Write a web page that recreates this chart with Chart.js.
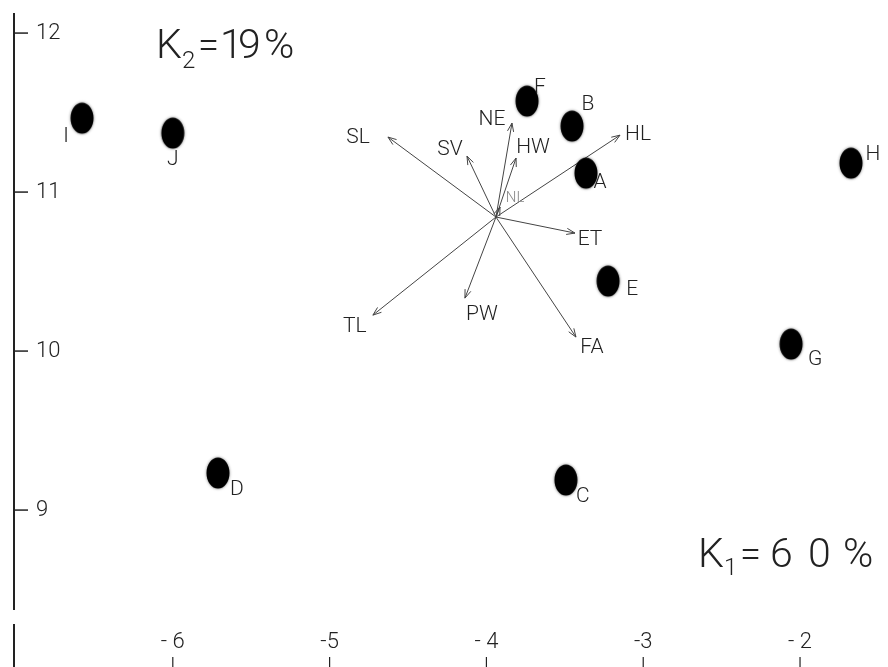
<!DOCTYPE html>
<html>
<head>
<meta charset="utf-8">
<script src="https://cdn.jsdelivr.net/npm/chart.js@4/dist/chart.umd.min.js"></script>
<style>
  html, body { margin: 0; padding: 0; background: #fff; }
  #plot { display: block; }
</style>
</head>
<body>
<canvas id="plot" width="888" height="667"></canvas>
<script>
// specimens, scores on the first two canonical axes
const pointNames = ['A', 'B', 'C', 'D', 'E', 'F', 'G', 'H', 'I', 'J'];
const pointX = [-3.365, -3.454, -3.493, -5.712, -3.224, -3.741, -2.057, -1.675, -6.579, -6.00];
const pointY = [11.119, 11.415, 9.189, 9.233, 10.440, 11.572, 10.044, 11.182, 11.465, 11.371];

// character vectors, all drawn from the same origin
const vectorOrigin = [-3.939, 10.843];
const vectorNames = ['SL', 'SV', 'NE', 'HW', 'HL', 'NL', 'ET', 'FA', 'PW', 'TL'];
const vectorX = [-4.628, -4.124, -3.837, -3.811, -3.148, -3.913, -3.435, -3.429, -4.137, -4.724];
const vectorY = [11.346, 11.226, 11.434, 11.214, 11.358, 10.906, 10.742, 10.088, 10.333, 10.226];

const xTicks = [-6, -5, -4, -3, -2];
const xTickLabels = ['- 6', '-5', '- 4', '-3', '- 2'];
const yTicks = [9, 10, 11, 12];
const yTickLabels = ['9', '10', '11', '12'];

// label placement relative to the mark, in pixels
const pointLabelOffsets = [[14, 10], [16, -21], [17, 17], [19, 17], [24, 9], [13, -13], [24, 16], [22, -8], [-16, 19], [0, 27]];
const vectorLabelOffsets = [[-30, 1], [-17, -6], [-20, -3], [17, -10], [18, 0], [15, -9], [15, 7], [16, 11], [17, 17], [-18, 12]];

const FONT = 'Roboto, "DejaVu Sans", sans-serif';
const INK = '#222';

// black oval used as the marker
function makeBlob() {
  const c = document.createElement('canvas');
  c.width = 30; c.height = 38;
  const g = c.getContext('2d');
  g.fillStyle = '#000';
  g.shadowColor = 'rgba(0,0,0,0.5)';
  g.shadowBlur = 3;
  g.beginPath();
  g.ellipse(15, 19, 11.5, 15.5, 0, 0, Math.PI * 2);
  g.fill();
  return c;
}

const vectorSets = vectorNames.map((name, i) => ({
  label: name,
  data: [{ x: vectorOrigin[0], y: vectorOrigin[1] }, { x: vectorX[i], y: vectorY[i] }],
  showLine: true,
  borderColor: '#444',
  borderWidth: 1,
  pointRadius: 0,
  isVector: true
}));

function arrowHead(ctx, x0, y0, x1, y1) {
  const a = Math.atan2(y1 - y0, x1 - x0);
  const len = 9, spread = 0.35;
  ctx.beginPath();
  ctx.moveTo(x1 - len * Math.cos(a - spread), y1 - len * Math.sin(a - spread));
  ctx.lineTo(x1, y1);
  ctx.lineTo(x1 - len * Math.cos(a + spread), y1 - len * Math.sin(a + spread));
  ctx.stroke();
}

const decorations = {
  id: 'decorations',
  afterDatasetsDraw(chart) {
    const ctx = chart.ctx;
    const xs = chart.scales.x, ys = chart.scales.y;
    const area = chart.chartArea;
    ctx.save();

    // left axis, broken near the bottom
    ctx.strokeStyle = '#222';
    ctx.lineWidth = 2;
    const ax = area.left + 14;
    ctx.beginPath();
    ctx.moveTo(ax, 13); ctx.lineTo(ax, 610);
    ctx.moveTo(ax, 624); ctx.lineTo(ax, area.bottom);
    ctx.stroke();

    ctx.lineWidth = 1.5;
    ctx.fillStyle = INK;
    ctx.font = '300 22px ' + FONT;
    ctx.textBaseline = 'middle';
    ctx.textAlign = 'left';
    yTicks.forEach((v, i) => {
      const py = ys.getPixelForValue(v);
      ctx.beginPath();
      ctx.moveTo(ax, py); ctx.lineTo(ax + 14, py);
      ctx.stroke();
      ctx.fillText(yTickLabels[i], ax + 22, py);
    });

    // bottom ticks without an axis line
    ctx.textAlign = 'center';
    ctx.lineWidth = 1.2;
    xTicks.forEach((v, i) => {
      const px = xs.getPixelForValue(v);
      ctx.beginPath();
      ctx.moveTo(px, 657); ctx.lineTo(px, area.bottom);
      ctx.stroke();
      ctx.fillText(xTickLabels[i], px, 642);
    });

    // arrow heads and vector names
    ctx.strokeStyle = '#444';
    ctx.lineWidth = 1;
    chart.data.datasets.forEach((ds, di) => {
      if (!ds.isVector) return;
      const pts = chart.getDatasetMeta(di).data;
      const i = vectorNames.indexOf(ds.label);
      arrowHead(ctx, pts[0].x, pts[0].y, pts[1].x, pts[1].y);
      const off = vectorLabelOffsets[i];
      if (ds.label === 'NL') {
        ctx.font = '300 15px ' + FONT;
        ctx.fillStyle = '#888';
      } else {
        ctx.font = '300 21px ' + FONT;
        ctx.fillStyle = INK;
      }
      ctx.fillText(ds.label, pts[1].x + off[0], pts[1].y + off[1]);
    });

    // specimen letters
    ctx.font = '300 21px ' + FONT;
    ctx.fillStyle = INK;
    const pmeta = chart.getDatasetMeta(0).data;
    pmeta.forEach((el, i) => {
      const off = pointLabelOffsets[i];
      ctx.fillText(pointNames[i], el.x + off[0], el.y + off[1]);
    });

    // share of variance on each axis
    ctx.textAlign = 'left';
    ctx.textBaseline = 'alphabetic';
    ctx.font = '300 41px ' + FONT;
    ctx.fillText('K', 156, 58);
    ctx.font = '300 24px ' + FONT;
    ctx.fillText('2', 182, 68);
    ctx.font = '300 38px ' + FONT;
    ctx.fillText('=', 198, 58);
    ctx.font = '300 41px ' + FONT;
    ctx.fillText('1', 220, 58);
    ctx.fillText('9', 238, 58);
    ctx.fillText('%', 264, 58);

    ctx.fillText('K', 698, 567);
    ctx.font = '300 24px ' + FONT;
    ctx.fillText('1', 724, 575);
    ctx.font = '300 38px ' + FONT;
    ctx.fillText('=', 740, 567);
    ctx.font = '300 41px ' + FONT;
    ctx.fillText('6', 770, 567);
    ctx.fillText('0', 808, 567);
    ctx.fillText('%', 843, 567);

    ctx.restore();
  }
};

new Chart(document.getElementById('plot'), {
  type: 'scatter',
  data: {
    datasets: [
      {
        label: 'specimens',
        data: pointX.map((x, i) => ({ x, y: pointY[i] })),
        pointStyle: makeBlob(),
        pointRadius: 15
      },
      ...vectorSets
    ]
  },
  options: {
    responsive: false,
    animation: false,
    layout: { padding: 0, autoPadding: false },
    plugins: { legend: { display: false }, tooltip: { enabled: false } },
    scales: {
      x: { type: 'linear', display: false, min: -7.102, max: -1.439 },
      y: { type: 'linear', display: false, min: 8.013, max: 12.208 }
    }
  },
  plugins: [decorations]
});
</script>
</body>
</html>
